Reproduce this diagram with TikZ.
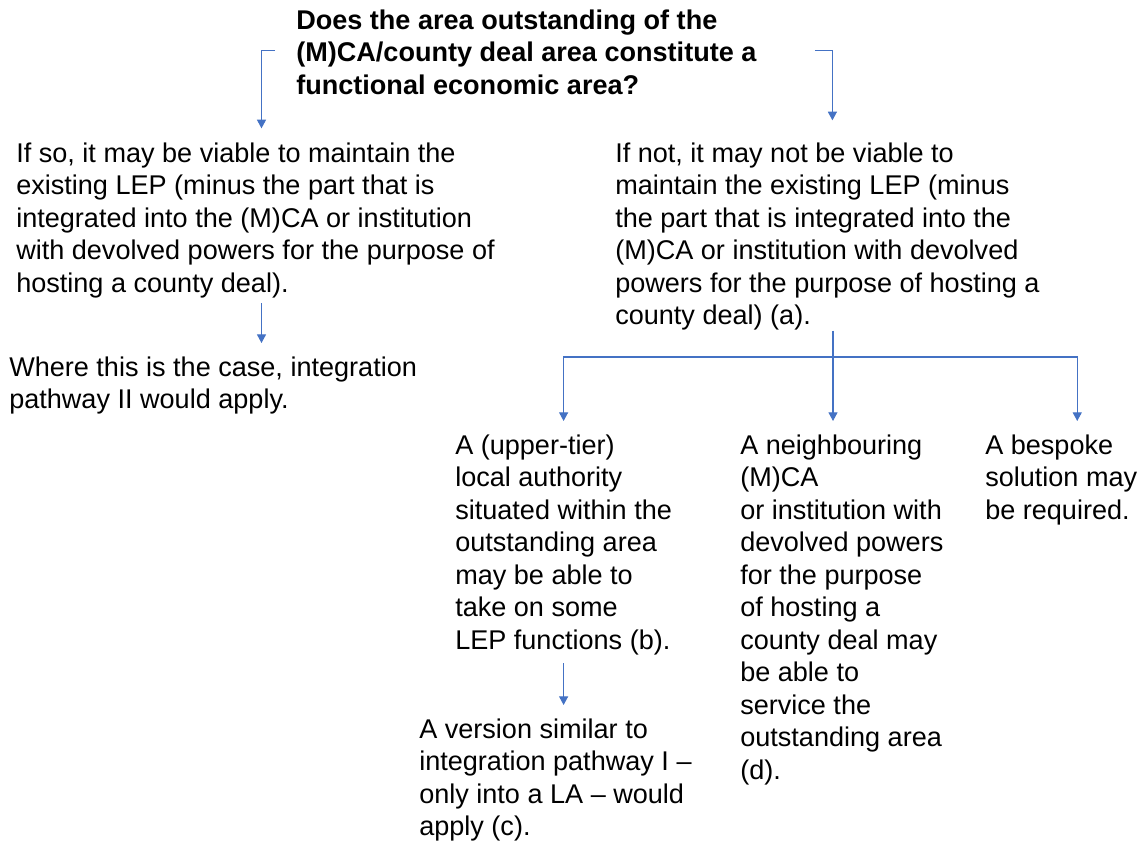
\documentclass[tikz,border=0pt]{standalone}
\usepackage{fontspec}
\setmainfont{Liberation Sans}
\usetikzlibrary{arrows.meta,positioning}
\definecolor{accblue}{RGB}{68,114,196}
\tikzset{
  txt/.style={anchor=north west, inner sep=0pt, align=left, font=\fontsize{20.3}{24.4}\selectfont},
  arr/.style={draw=accblue, line width=0.8pt, -{Triangle[width=6.8pt,length=6.5pt]}, shorten >=7.5pt}
}
\begin{document}
\begin{tikzpicture}[x=0.75pt,y=-0.75pt]
          \useasboundingbox (0,0) rectangle (1143,843);
          
          \node[txt, font=\fontsize{20.3}{24.4}\selectfont\bfseries] (q) at (296,6) {\strut Does the area outstanding of the\\(M)CA/county deal area constitute a\\functional economic area?};
          \node[txt] (yes) at (16,139) {\strut If so, it may be viable to maintain the\\existing LEP (minus the part that is\\integrated into the (M)CA or institution\\with devolved powers for the purpose of\\hosting a county deal).};
          \node[txt] (case) at (9,353) {\strut Where this is the case, integration\\pathway II would apply.};
          \node[txt] (no) at (615,139) {\strut If not, it may not be viable to\\maintain the existing LEP (minus\\the part that is integrated into the\\(M)CA or institution with devolved\\powers for the purpose of hosting a\\county deal) (a).};
          \node[txt] (upper) at (455,431) {\strut A (upper-tier)\\local authority\\situated within the\\outstanding area\\may be able to\\take on some\\LEP functions (b).};
          \node[txt] (version) at (419,715) {\strut A version similar to\\integration pathway I –\\only into a LA – would\\apply (c).};
          \node[txt] (neigh) at (740,431) {\strut A neighbouring\\(M)CA\\or institution with\\devolved powers\\for the purpose\\of hosting a\\county deal may\\be able to\\service the\\outstanding area\\(d).};
          \node[txt] (bespoke) at (985,431) {\strut A bespoke\\solution may\\be required.};
          
          % question splits
          \draw[arr, shorten >=8pt] ([xshift=-15.75pt]q.west) -| ([xshift=4.5pt]yes.north);
          \draw[arr, shorten >=14pt] ([xshift=43.5pt]q.east) -| ([xshift=3.75pt]no.north);
          \draw[arr, shorten <=4pt] ([xshift=4.5pt]yes.south) -- ([xshift=4.5pt]yes.south |- case.north);
          
          % three options
          \coordinate (fork) at (833,357);
          \draw[accblue, line width=0.8pt] (fork |- no.south) -- (fork);
          \draw[arr] (fork) -- (fork |- neigh.north);
          \draw[arr] (fork) -| (upper.north);
          \draw[arr] (fork) -| ([xshift=12pt]bespoke.north);
          \draw[arr, shorten <=6pt] (upper.south) -- (upper.south |- version.north);
        \end{tikzpicture}
\end{document}
